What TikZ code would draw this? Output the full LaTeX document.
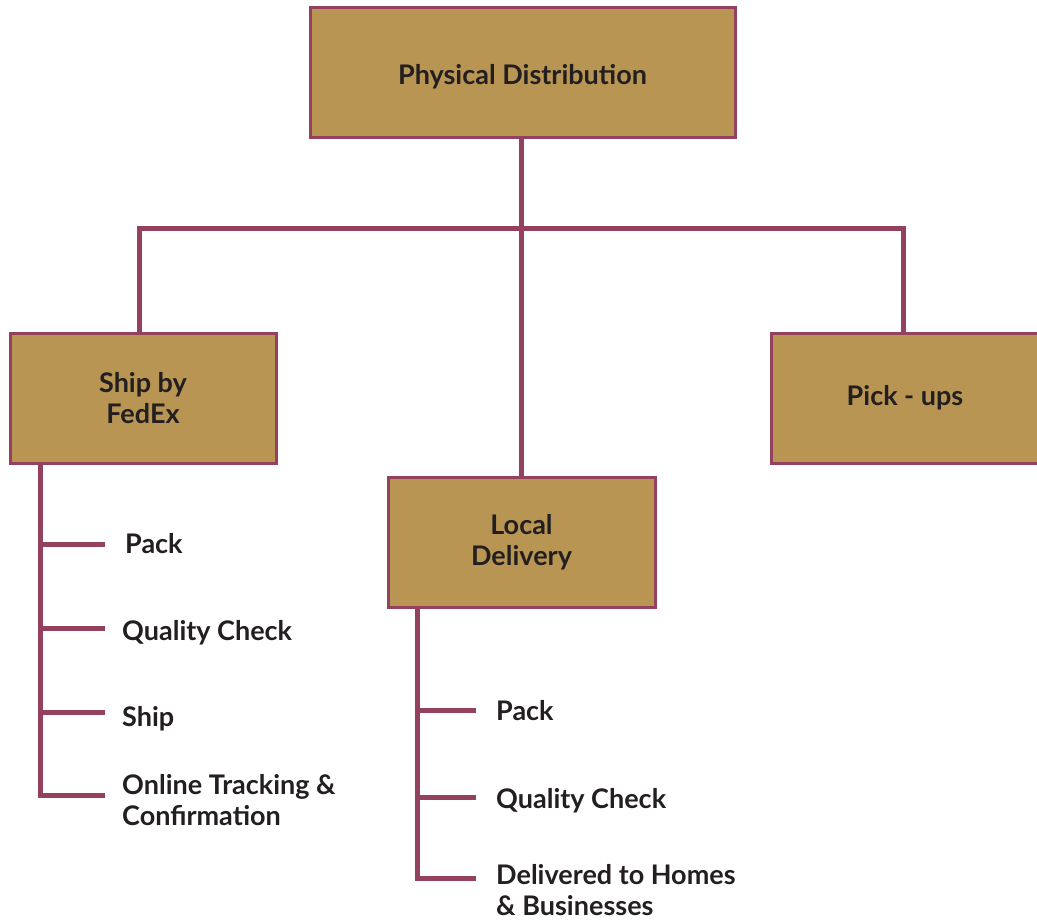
\documentclass[tikz,border=0pt]{standalone}
\usepackage{fontspec}
\setmainfont{Lato}
\definecolor{boxfill}{HTML}{B89552}
\definecolor{maroon}{HTML}{94405F}
\definecolor{ink}{HTML}{231F20}
\begin{document}
\begin{tikzpicture}[x=1pt,y=-1pt,
  every node/.style={font=\fontsize{27}{31}\selectfont\bfseries, text=ink},
  boxbase/.style={draw=maroon, line width=3pt, fill=boxfill, inner sep=0pt},
  box/.style={boxbase, align=center},
  conn/.style={draw=maroon, line width=5pt},
  item/.style={anchor=west, align=left, inner sep=0pt}]
\useasboundingbox (0,0) rectangle (1037,924);
% boxes
\node[boxbase, minimum width=425pt, minimum height=130pt] (pd) at (522.5,72) {\raisebox{-5pt}[\height][\depth]{Physical Distribution}};
\node[box, minimum width=266pt, minimum height=130pt] (fedex) at (143,398) {Ship by\\FedEx};
\node[box, minimum width=268pt, minimum height=130pt] (pick) at (905,398) {Pick - ups};
\node[box, minimum width=267pt, minimum height=130pt] (local) at (521.5,542) {Local\\Delivery};
% top connectors
\coordinate (hl) at (139,228);
\coordinate (hr) at (903,228);
\coordinate (hm) at (521,228);
\draw[conn] (pd.south -| hm) -- (local.north -| hm);
\draw[conn] (hl |- fedex.north) -- (hl) -- (hr) -- (hr |- pick.north);
% left items
\node[item] (f1) at (125,544) {Pack};
\node[item] (f2) at (122,633) {Quality Check};
\node[item] (f3) at (122,719) {Ship};
\node[item] (f4) at (122,800) {Online Tracking \&\\Confirmation};
\coordinate (fx) at (40,463);
\coordinate (fe1) at (105,544);
\coordinate (fe2) at (105,628);
\coordinate (fe3) at (105,712);
\coordinate (fe4) at (105,795);
\draw[conn] (fedex.south -| fx) -- (fx |- fe4) -- (fe4);
\draw[conn] (fx |- fe1) -- (fe1);
\draw[conn] (fx |- fe2) -- (fe2);
\draw[conn] (fx |- fe3) -- (fe3);
% local items
\node[item] (l1) at (496,711) {Pack};
\node[item] (l2) at (496,801) {Quality Check};
\node[item] (l3) at (496,890) {Delivered to Homes\\\& Businesses};
\coordinate (lx) at (417,607);
\coordinate (le1) at (476,710);
\coordinate (le2) at (476,797);
\coordinate (le3) at (476,878);
\draw[conn] (local.south -| lx) -- (lx |- le3) -- (le3);
\draw[conn] (lx |- le1) -- (le1);
\draw[conn] (lx |- le2) -- (le2);
\end{tikzpicture}
\end{document}
